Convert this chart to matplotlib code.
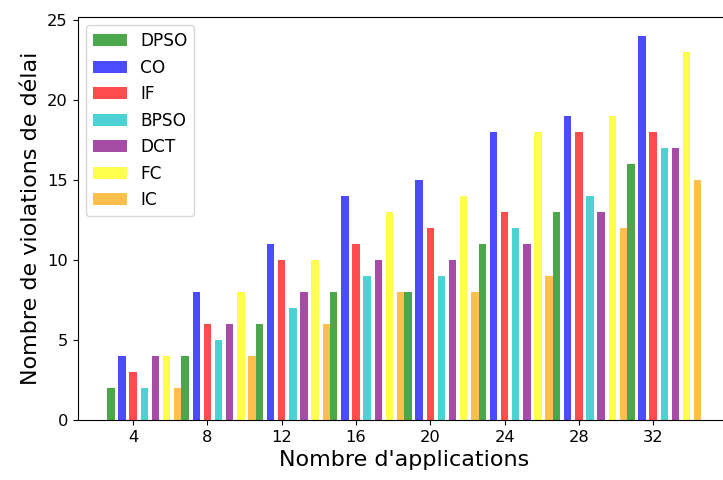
import numpy as np
import matplotlib
matplotlib.use("Agg")
import matplotlib.pyplot as plt

categories = [4, 8, 12, 16, 20, 24, 28, 32]
dpso = [2, 4, 6, 8, 8, 11, 13, 16]
co = [4, 8, 11, 14, 15, 18, 19, 24]
if_ = [3, 6, 10, 11, 12, 13, 18, 18]
bpso = [2, 5, 7, 9, 9, 12, 14, 17]
dct = [4, 6, 8, 10, 10, 11, 13, 17]
fc = [4, 8, 10, 13, 14, 18, 19, 23]
ic = [2, 4, 6, 8, 8, 9, 12, 15]

series = [("DPSO", dpso, "green"), ("CO", co, "blue"), ("IF", if_, "red"),
          ("BPSO", bpso, "c"), ("DCT", dct, "purple"), ("FC", fc, "yellow"),
          ("IC", ic, "orange")]

fig = plt.figure(figsize=(7.23, 4.8), dpi=100)
ax = fig.add_axes([0.1072, 0.125, 0.904, 0.8396])
x = np.arange(len(categories))
step = 0.15
w = 0.1
for k, (name, vals, col) in enumerate(series):
    ax.bar(x + (k - 2) * step, vals, w, color=col, alpha=0.7, label=name)

ax.set_xticks(x)
ax.set_xticklabels([str(c) for c in categories], fontsize=11.7)
ax.tick_params(axis='y', labelsize=11.7)
ax.set_xlim(-0.75, 8.05)
ax.set_ylim(0, 25.2)
ax.set_xlabel("Nombre d'applications", fontsize=16)
ax.set_ylabel("Nombre de violations de délai", fontsize=16)
ax.legend(loc="upper left", fontsize=12.2)
fig.savefig("out.png", dpi=100)
